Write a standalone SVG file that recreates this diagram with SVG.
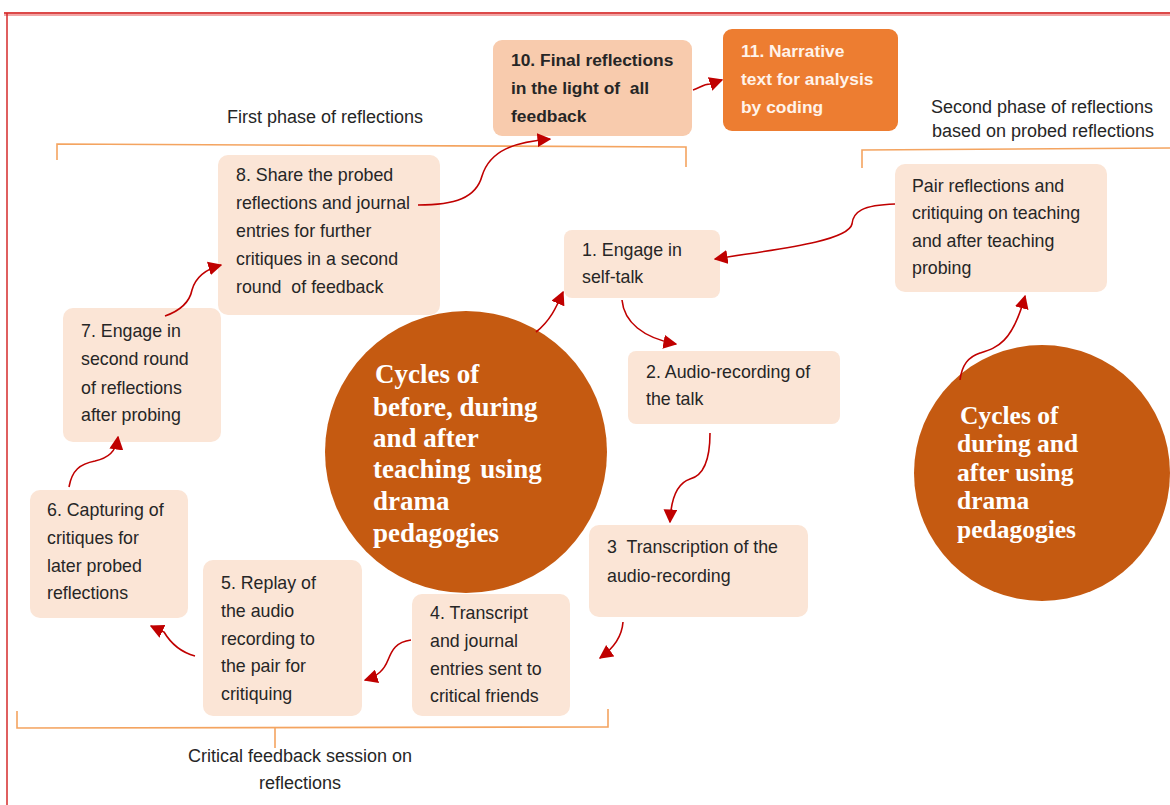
<svg xmlns="http://www.w3.org/2000/svg" width="1170" height="805" viewBox="0 0 1170 805">
  <style>
    .box { fill: #FBE5D6; }
    .t { font-family: "Liberation Sans", Arial, sans-serif; font-size: 17.8px; fill: #262626; }
    .tb { font-family: "Liberation Sans", Arial, sans-serif; font-size: 17.4px; font-weight: bold; }
    .circ { fill: #C55A11; }
    .ct { font-family: "Liberation Serif", "Times New Roman", serif; font-size: 27px; font-weight: bold; fill: #FFFFFF; }
    .ct2 { font-family: "Liberation Serif", "Times New Roman", serif; font-size: 25.5px; font-weight: bold; fill: #FFFFFF; }
    .lbl { font-family: "Liberation Sans", Arial, sans-serif; font-size: 18px; fill: #262626; }
    .brk { fill: none; stroke: #F4A460; stroke-width: 1.6; }
    .conn { fill: none; stroke: #C00000; stroke-width: 1.6; }
  </style>
  <defs>
    <marker id="arrow" viewBox="0 0 10 10" refX="9" refY="5" markerWidth="14" markerHeight="14" markerUnits="userSpaceOnUse" orient="auto">
      <path d="M0,0 L10,5 L0,10 Z" fill="#C00000"/>
    </marker>
  </defs>

  <rect width="1170" height="805" fill="#FFFFFF"/>

  <!-- outer frame -->
  <g id="frame">
    <line x1="4" y1="14" x2="1170" y2="14" stroke="#F2A6A6" stroke-width="4"/>
    <line x1="4" y1="13" x2="1170" y2="13" stroke="#D42A2A" stroke-width="1.5"/>
    <line x1="7" y1="13" x2="7" y2="805" stroke="#D42A2A" stroke-width="1.5"/>
  </g>

  <!-- phase brackets and their labels -->
  <g id="brackets">
    <path class="brk" d="M57,160 L57,144 L686,147 L686,167"/>
    <path class="brk" d="M862,168 L862,150 L1170,148"/>
    <path class="brk" d="M17,711 L17,728 L608,727 L608,709 M275,728 L275,748"/>
    <text class="lbl" x="325" y="123" text-anchor="middle">First phase of reflections</text>
    <text class="lbl" x="1042" y="113" text-anchor="middle">Second phase of reflections</text>
    <text class="lbl" x="1043" y="137" text-anchor="middle">based on probed reflections</text>
    <text class="lbl" x="300" y="762" text-anchor="middle">Critical feedback session on</text>
    <text class="lbl" x="300" y="789" text-anchor="middle">reflections</text>
  </g>

  <!-- circles -->
  <g id="cycle-main">
    <circle class="circ" cx="466" cy="452" r="141"/>
    <text class="ct" x="375" y="383">Cycles of</text>
    <text class="ct" x="373" y="416">before, during</text>
    <text class="ct" x="373" y="447">and after</text>
    <text class="ct" x="373" y="478" word-spacing="3">teaching using</text>
    <text class="ct" x="373" y="510">drama</text>
    <text class="ct" x="373" y="542">pedagogies</text>
  </g>
  <g id="cycle-second">
    <circle class="circ" cx="1042" cy="473" r="128"/>
    <text class="ct2" x="960" y="424">Cycles of</text>
    <text class="ct2" x="957" y="452">during and</text>
    <text class="ct2" x="957" y="481">after using</text>
    <text class="ct2" x="957" y="509">drama</text>
    <text class="ct2" x="957" y="538">pedagogies</text>
  </g>

  <!-- step boxes -->
  <g id="step10">
    <rect x="493" y="40" width="199" height="96" rx="9" fill="#F8CBAD"/>
    <text class="tb" fill="#262626" x="511" y="66">10. Final reflections</text>
    <text class="tb" fill="#262626" x="511" y="94" xml:space="preserve">in the light of  all</text>
    <text class="tb" fill="#262626" x="511" y="122">feedback</text>
  </g>
  <g id="step11">
    <rect x="723" y="29" width="175" height="102" rx="9" fill="#ED7D31"/>
    <text class="tb" fill="#FFF3EA" x="741" y="57">11. Narrative</text>
    <text class="tb" fill="#FFF3EA" x="741" y="85">text for analysis</text>
    <text class="tb" fill="#FFF3EA" x="741" y="113">by coding</text>
  </g>
  <g id="step8">
    <rect class="box" x="218" y="155" width="222" height="160" rx="10"/>
    <text class="t" x="236" y="181">8. Share the probed</text>
    <text class="t" x="236" y="209">reflections and journal</text>
    <text class="t" x="236" y="237">entries for further</text>
    <text class="t" x="236" y="265">critiques in a second</text>
    <text class="t" x="236" y="293" xml:space="preserve">round  of feedback</text>
  </g>
  <g id="step1">
    <rect class="box" x="564" y="230" width="156" height="68" rx="8"/>
    <text class="t" x="582" y="256">1. Engage in</text>
    <text class="t" x="582" y="283">self-talk</text>
  </g>
  <g id="step2">
    <rect class="box" x="628" y="351" width="212" height="73" rx="8"/>
    <text class="t" x="646" y="378">2. Audio-recording of</text>
    <text class="t" x="646" y="405">the talk</text>
  </g>
  <g id="step3">
    <rect class="box" x="589" y="525" width="219" height="92" rx="10"/>
    <text class="t" x="607" y="553" xml:space="preserve">3  Transcription of the</text>
    <text class="t" x="607" y="582">audio-recording</text>
  </g>
  <g id="step4">
    <rect class="box" x="412" y="594" width="158" height="122" rx="10"/>
    <text class="t" x="430" y="619">4. Transcript</text>
    <text class="t" x="430" y="647">and journal</text>
    <text class="t" x="430" y="675">entries sent to</text>
    <text class="t" x="430" y="702">critical friends</text>
  </g>
  <g id="step5">
    <rect class="box" x="203" y="560" width="159" height="156" rx="10"/>
    <text class="t" x="221" y="589">5. Replay of</text>
    <text class="t" x="221" y="617">the audio</text>
    <text class="t" x="221" y="645">recording to</text>
    <text class="t" x="221" y="672">the pair for</text>
    <text class="t" x="221" y="700">critiquing</text>
  </g>
  <g id="step6">
    <rect class="box" x="30" y="490" width="158" height="128" rx="10"/>
    <text class="t" x="47" y="516">6. Capturing of</text>
    <text class="t" x="47" y="544">critiques for</text>
    <text class="t" x="47" y="572">later probed</text>
    <text class="t" x="47" y="599">reflections</text>
  </g>
  <g id="step7">
    <rect class="box" x="63" y="308" width="158" height="134" rx="10"/>
    <text class="t" x="81" y="337">7. Engage in</text>
    <text class="t" x="81" y="365">second round</text>
    <text class="t" x="81" y="394">of reflections</text>
    <text class="t" x="81" y="421">after probing</text>
  </g>
  <g id="pair">
    <rect class="box" x="895" y="164" width="212" height="128" rx="10"/>
    <text class="t" x="912" y="192">Pair reflections and</text>
    <text class="t" x="912" y="219">critiquing on teaching</text>
    <text class="t" x="912" y="247">and after teaching</text>
    <text class="t" x="912" y="274">probing</text>
  </g>

  <!-- connectors -->
  <g id="connectors">
    <path class="conn" marker-end="url(#arrow)" d="M418,205 C455,205 476,198 482,176 C490,150 515,142 550,139"/>
    <path class="conn" marker-end="url(#arrow)" d="M693,90 C700,88 703,84 710,84 L722,80"/>
    <path class="conn" marker-end="url(#arrow)" d="M895,204 C862,205 853,212 852,224 C848,242 770,250 715,259"/>
    <path class="conn" marker-end="url(#arrow)" d="M536,332 C550,321 556,308 563,292"/>
    <path class="conn" marker-end="url(#arrow)" d="M622,300 C624,322 643,338 676,344"/>
    <path class="conn" marker-end="url(#arrow)" d="M710,433 C710,462 702,476 690,479 C678,483 671,497 670,522"/>
    <path class="conn" marker-end="url(#arrow)" d="M623,622 C622,636 614,648 600,658"/>
    <path class="conn" marker-end="url(#arrow)" d="M411,640 C396,642 392,650 388,660 C384,670 378,676 365,680"/>
    <path class="conn" marker-end="url(#arrow)" d="M195,656 C180,652 170,642 164,632 L151,626"/>
    <path class="conn" marker-end="url(#arrow)" d="M69,487 C72,470 80,464 95,461 C108,458 116,452 118,437"/>
    <path class="conn" marker-end="url(#arrow)" d="M165,316 C182,310 190,300 192,290 C195,279 203,270 221,265"/>
    <path class="conn" marker-end="url(#arrow)" d="M960,380 C962,365 968,357 980,353 C996,348 1012,344 1025,296"/>
  </g>
</svg>
